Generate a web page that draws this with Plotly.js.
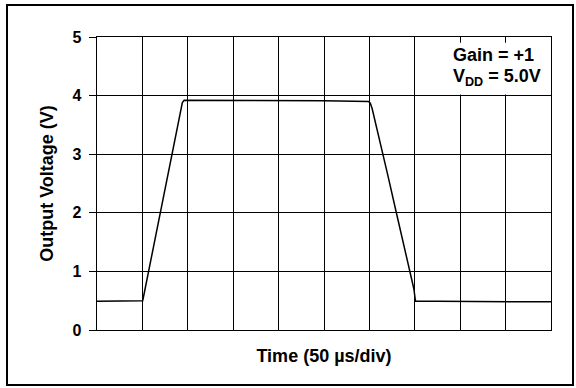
<!DOCTYPE html>
<html>
<head>
<meta charset="utf-8">
<script src="https://cdn.plot.ly/plotly-3.0.1.min.js"></script>
<style>
  html, body { margin: 0; padding: 0; background: #fff; }
  #wrap { position: relative; width: 576px; height: 388px; }
  #chart { position: absolute; left: 0; top: 0; width: 576px; height: 388px; }
  #frame { position: absolute; left: 6px; top: 4px; width: 568px; height: 382px;
           border: 2px solid #000; box-sizing: border-box; pointer-events: none; }
</style>
</head>
<body>
<div id="wrap">
  <div id="chart"></div>
  <div id="frame"></div>
</div>
<script>
// Time in microseconds (50 us per division), output voltage in volts
const timeUs = [0, 25, 50.3, 51, 60, 70, 80, 90, 92, 94, 96, 150, 200, 250, 299, 301, 303, 310, 320, 330, 340, 349, 350.5, 351, 375, 400, 450, 500];
const voltage = [0.49, 0.49, 0.50, 0.55, 1.25, 2.00, 2.77, 3.55, 3.76, 3.88, 3.92, 3.92, 3.91, 3.91, 3.90, 3.87, 3.78, 3.33, 2.66, 1.98, 1.31, 0.70, 0.52, 0.49, 0.49, 0.49, 0.48, 0.48];

const yTicks = [0, 1, 2, 3, 4, 5];
const xTicks = [0, 50, 100, 150, 200, 250, 300, 350, 400, 450, 500];

const FONT = "Liberation Sans, Arial, Helvetica, sans-serif";

const trace = {
  x: timeUs,
  y: voltage,
  type: 'scatter',
  mode: 'lines',
  line: { color: '#000', width: 1.5 },
  hoverinfo: 'skip'
};

const layout = {
  width: 576,
  height: 388,
  margin: { l: 97, r: 25, t: 37, b: 58 },
  paper_bgcolor: '#fff',
  plot_bgcolor: '#fff',
  showlegend: false,
  font: { family: FONT, color: '#000' },
  xaxis: {
    range: [0, 500],
    tickmode: 'array',
    tickvals: xTicks,
    showticklabels: false,
    ticks: '',
    showgrid: true,
    gridcolor: '#000',
    gridwidth: 1,
    zeroline: false,
    showline: true,
    linecolor: '#000',
    linewidth: 1.3,
    mirror: true,
    title: { text: 'Time (50 µs/div)', font: { family: FONT, size: 18, weight: 'bold', color: '#000' }, standoff: 19 },
    fixedrange: true
  },
  yaxis: {
    range: [0, 5],
    tickmode: 'array',
    tickvals: yTicks,
    ticktext: yTicks.map(String),
    ticks: 'outside',
    ticklen: 7,
    tickwidth: 1,
    tickcolor: '#000',
    ticklabelstandoff: 4,
    tickfont: { family: FONT, size: 16, weight: 'bold', color: '#000' },
    showgrid: true,
    gridcolor: '#000',
    gridwidth: 1,
    zeroline: false,
    showline: true,
    linecolor: '#000',
    linewidth: 1.3,
    mirror: true,
    title: { text: 'Output Voltage (V)', font: { family: FONT, size: 18, weight: 'bold', color: '#000' }, standoff: 14 },
    fixedrange: true
  },
  shapes: [{
    type: 'rect', layer: 'between',
    xref: 'x', yref: 'y',
    x0: 385, x1: 500, y0: 4.02, y1: 4.9,
    fillcolor: '#fff', line: { width: 0 }
  }],
  annotations: [
    { xref: 'x', yref: 'y', x: 389.5, y: 4.70, xanchor: 'left', yanchor: 'middle', showarrow: false,
      text: 'Gain = +1', font: { family: FONT, size: 18, weight: 'bold', color: '#000' } },
    { xref: 'x', yref: 'y', x: 389.5, y: 4.31, xanchor: 'left', yanchor: 'middle', showarrow: false,
      text: 'V<sub>DD</sub> = 5.0V', font: { family: FONT, size: 18, weight: 'bold', color: '#000' } }
  ]
};

Plotly.newPlot('chart', [trace], layout, { staticPlot: true, displayModeBar: false });
</script>
</body>
</html>
